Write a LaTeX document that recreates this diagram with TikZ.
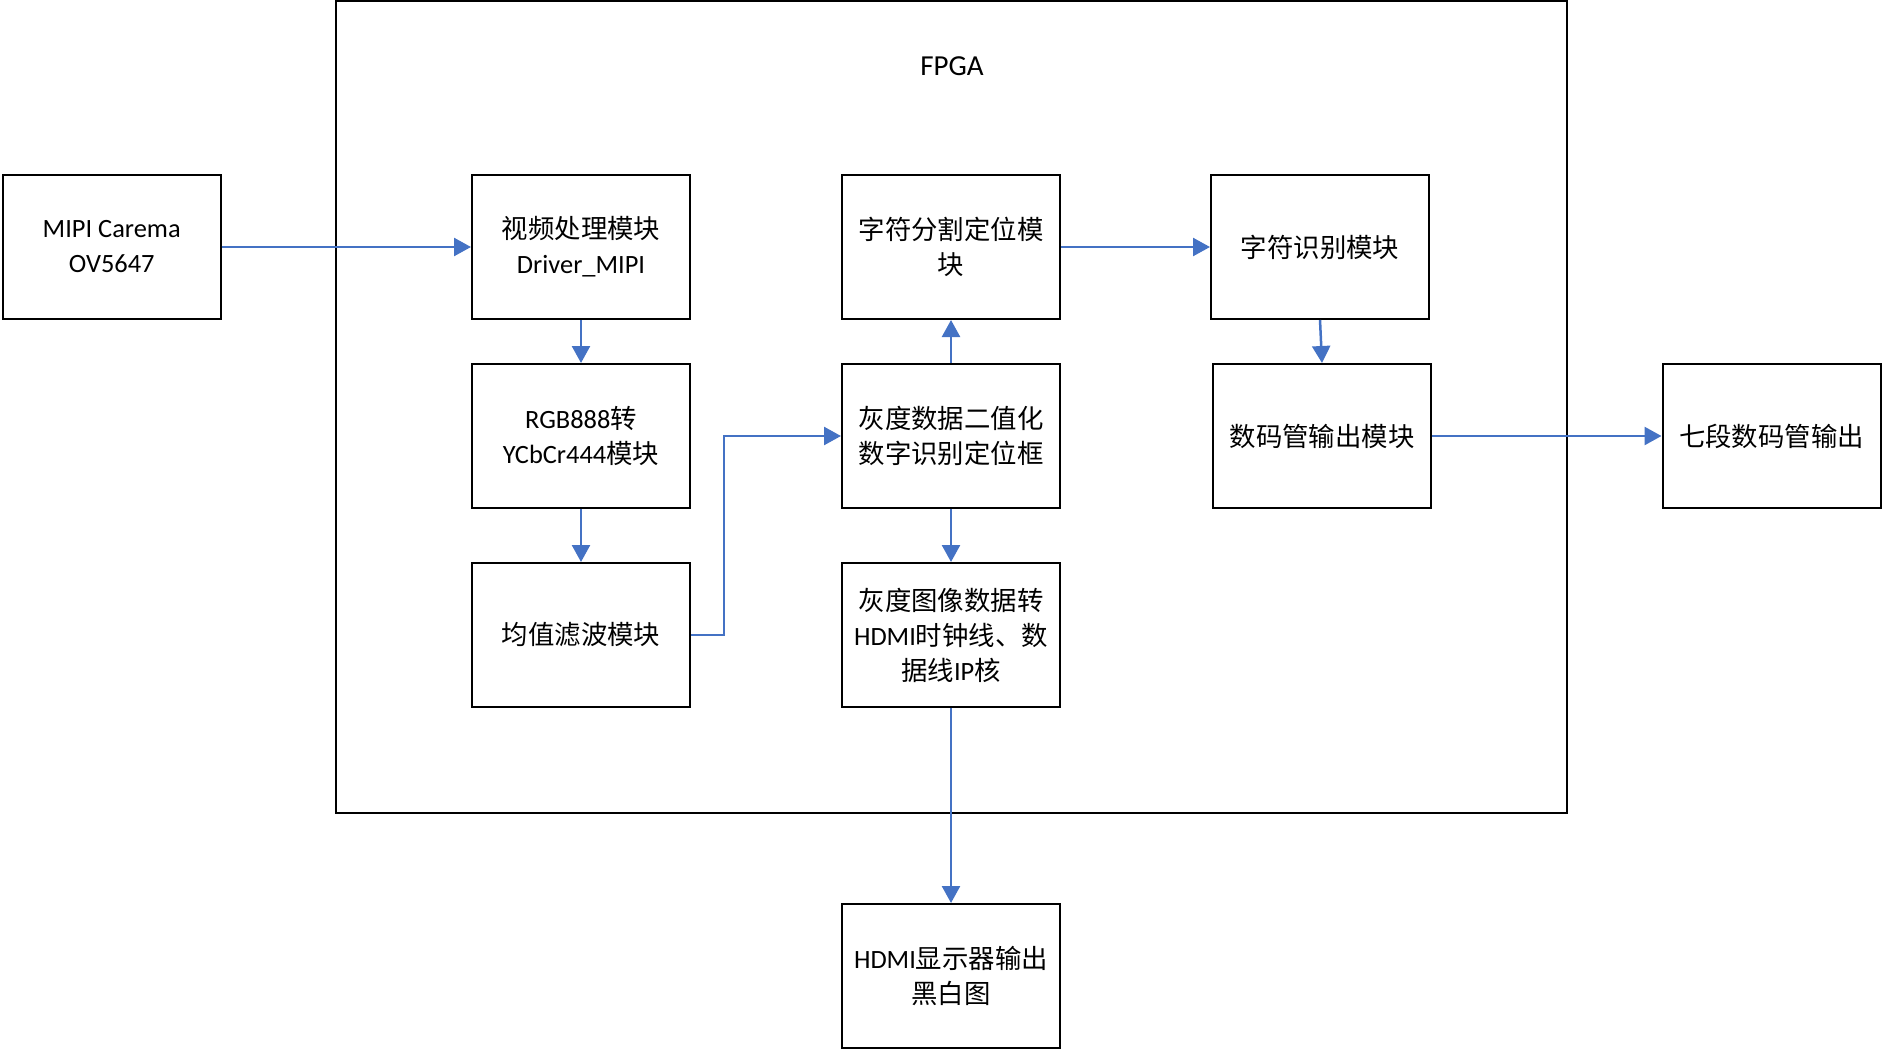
\documentclass[tikz,border=0pt]{standalone}
\usepackage{fontspec}
\setmainfont{Carlito}
\newfontfamily\cjk{Noto Sans CJK SC}
\usetikzlibrary{arrows.meta}
\definecolor{lnblue}{HTML}{4472C4}
\begin{document}
\begin{tikzpicture}[x=0.5pt,y=-0.5pt,
  blk/.style={draw=black,line width=1pt,minimum width=109pt,minimum height=72pt,inner sep=0pt,align=center,
    font=\fontsize{13.2}{17.5}\selectfont},
  frame/.style={draw=black,line width=0.9pt,minimum width=615.5pt,minimum height=406pt,inner sep=0pt},
  arr/.style={draw=lnblue,line width=1.25pt,-{Triangle[length=8.5pt,width=9pt]}}]
\useasboundingbox (0,0) rectangle (1883,1049);
\node[frame] (fpga) at (951.5,407) {};
\node[font=\fontsize{14.5}{17}\selectfont] (fpgat) at (952,66) {FPGA};
\node[blk] (cam) at (111.7,247) {MIPI Carema\\OV5647};
\node[blk] (vid) at (581,247) {{\cjk 视频处理模块}\\Driver\_MIPI};
\node[blk] (rgb) at (581,436) {RGB888{\cjk 转}\\YCbCr444{\cjk 模块}};
\node[blk] (avg) at (581,635) {{\cjk 均值滤波模块}};
\node[blk] (seg) at (951,247) {{\cjk 字符分割定位模}\\{\cjk 块}};
\node[blk] (bin) at (951,436) {{\cjk 灰度数据二值化}\\{\cjk 数字识别定位框}};
\node[blk] (hip) at (951,635) {{\cjk 灰度图像数据转}\\HDMI{\cjk 时钟线、数}\\{\cjk 据线}IP{\cjk 核}};
\node[blk] (rec) at (1320,247) {{\cjk 字符识别模块}};
\node[blk] (led) at (1322,436) {{\cjk 数码管输出模块}};
\node[blk] (sev) at (1771.5,436) {{\cjk 七段数码管输出}};
\node[blk] (disp) at (951,976) {HDMI{\cjk 显示器输出}\\{\cjk 黑白图}};
\coordinate (elb) at (724,635);
\draw[arr] (cam.east) -- (vid.west);
\draw[arr] (vid.south) -- (rgb.north);
\draw[arr] (rgb.south) -- (avg.north);
\draw[arr] (avg.east) -- (elb) |- (bin.west);
\draw[arr] (bin.north) -- (seg.south);
\draw[arr] (bin.south) -- (hip.north);
\draw[arr] (seg.east) -- (rec.west);
\draw[arr] (rec.south) -- (led.north);
\draw[arr] (led.east) -- (sev.west);
\draw[arr] (hip.south) -- (disp.north);
\end{tikzpicture}
\end{document}
